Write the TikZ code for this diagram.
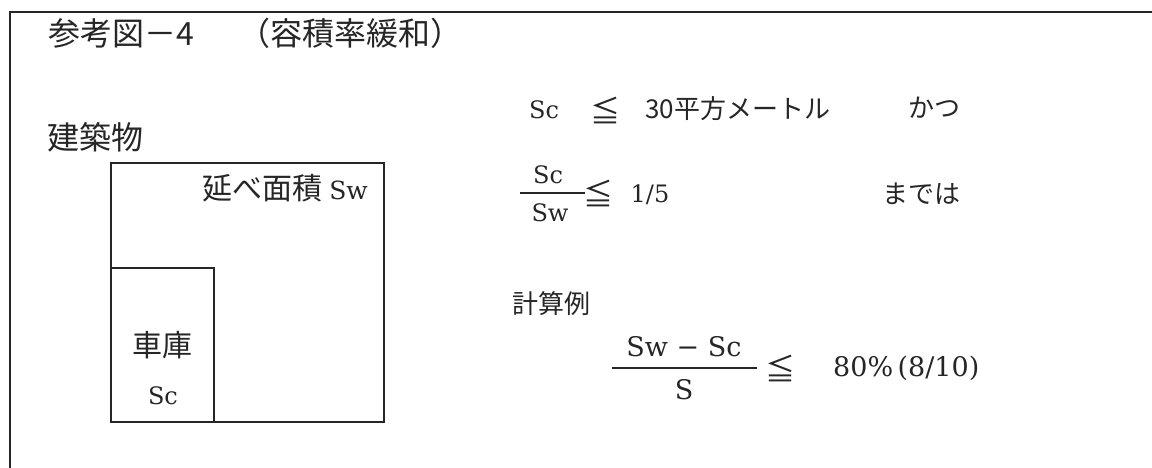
\documentclass[tikz,border=0pt]{standalone}
\usepackage{fontspec}
\newfontfamily\jp{Noto Sans CJK JP}
\newfontfamily\lat{DejaVu Serif}
\definecolor{ink}{HTML}{262626}
\begin{document}
\begin{tikzpicture}[x=1pt,y=-1pt,
  every node/.style={inner sep=0pt, text=ink},
  jptitle/.style={font=\jp\fontsize{32}{36}\selectfont},
  jpbig/.style={font=\jp\fontsize{30}{34}\selectfont},
  jpmid/.style={font=\jp\fontsize{26}{30}\selectfont},
  serif/.style={font=\lat\fontsize{24}{28}\selectfont},
  serifl/.style={font=\lat\fontsize{27}{31}\selectfont},
  rel/.style={font=\jp\fontsize{30}{34}\selectfont},
  frame/.style={draw=ink, line width=1.6pt},
  wall/.style={draw=ink, line width=1.4pt},
  fracbar/.style={draw=ink, line width=1.1pt}]
\useasboundingbox (0,0) rectangle (1152,468);
\fill[white] (0,0) rectangle (1152,468);

% frame
\draw[frame] (10,468) -- (10,12) -- (1152,12);

% title
\node[jptitle, anchor=west] (t1) at (48,33) {参考図－4};
\node[jptitle, anchor=west] (t2) at (238,33) {（容積率緩和）};

% building
\node[jptitle, anchor=west] (bld) at (47,137) {建築物};
\draw[wall] (111,163) rectangle (384,422);
\draw[wall] (111,268) rectangle (214,422);
\node[jpbig, anchor=east] (sw) at (368,188) {延べ面積 {\lat\fontsize{25}{30}\selectfont Sw}};
\node[jpbig] (garage) at (162,345) {車庫};
\node[serif] (sc) at (163,396) {Sc};

% condition line 1
\node[serif] (l1sc) at (544,110) {Sc};
\node[rel] (l1le) at (605,111) {≦};
\node[jpmid, anchor=west] (l1v) at (645,109) {30平方メートル};
\node[jpmid, anchor=west] (l1k) at (908,108) {かつ};

% condition line 2
\node[serif] (f1n) at (548,175) {Sc};
\node[serif] (f1d) at (550,213) {Sw};
\coordinate (f1a) at (520,193);
\coordinate (f1b) at (585,193);
\draw[fracbar] (f1a) -- (f1b);
\node[rel] (l2le) at (598,193) {≦};
\node[serif] (l2v) at (650,195) {1/5};
\node[jpmid, anchor=west] (l2k) at (882,194) {までは};

% example
\node[jpmid, anchor=west] (ex) at (512,304) {計算例};
\node[serifl] (f2n) at (684,347) {Sw − Sc};
\node[serifl] (f2d) at (684,390) {S};
\coordinate (f2a) at (612,368);
\coordinate (f2b) at (757,368);
\draw[fracbar] (f2a) -- (f2b);
\node[rel] (l3le) at (780,368) {≦};
\node[serifl, anchor=west] (l3v) at (833,368) {80\%\,(8/10)};
\end{tikzpicture}
\end{document}
